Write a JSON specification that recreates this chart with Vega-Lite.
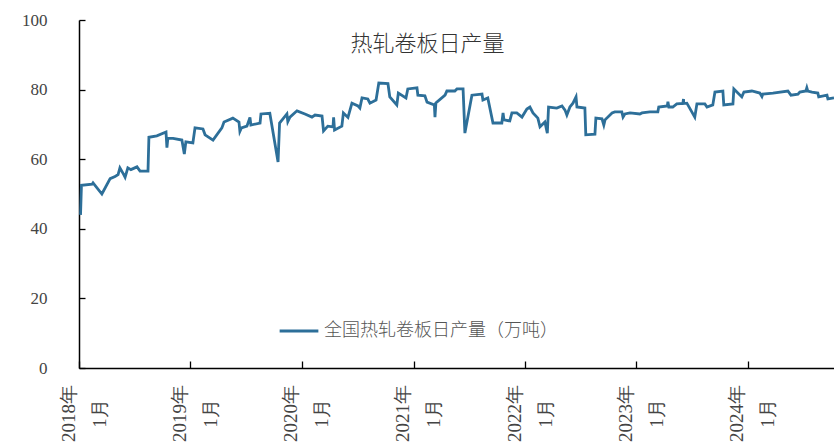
{
  "$schema": "https://vega.github.io/schema/vega-lite/v6.json",
  "width": 755,
  "height": 348,
  "autosize": "none",
  "padding": {"left": 79, "top": 20, "right": 0, "bottom": 77},
  "background": "white",
  "title": {
    "text": "热轧卷板日产量",
    "font": "Noto Sans CJK SC",
    "fontSize": 22,
    "fontWeight": 300,
    "color": "#333333",
    "anchor": "middle",
    "offset": -45,
    "dx": -29
  },
  "config": {
    "view": {"stroke": null},
    "axis": {"grid": false}
  },
  "data": {
    "values": [
      {"d": "2018-01-06", "v": 44.0},
      {"d": "2018-01-09", "v": 52.5},
      {"d": "2018-02-13", "v": 52.8},
      {"d": "2018-02-16", "v": 53.2},
      {"d": "2018-03-17", "v": 50.0},
      {"d": "2018-04-13", "v": 54.4},
      {"d": "2018-04-29", "v": 55.0},
      {"d": "2018-05-09", "v": 55.6},
      {"d": "2018-05-15", "v": 57.5},
      {"d": "2018-05-28", "v": 55.5},
      {"d": "2018-06-01", "v": 54.8},
      {"d": "2018-06-10", "v": 57.5},
      {"d": "2018-06-20", "v": 57.0},
      {"d": "2018-07-10", "v": 57.8},
      {"d": "2018-07-20", "v": 56.6},
      {"d": "2018-08-15", "v": 56.6},
      {"d": "2018-08-18", "v": 66.3},
      {"d": "2018-09-13", "v": 66.7},
      {"d": "2018-10-13", "v": 67.8},
      {"d": "2018-10-16", "v": 63.3},
      {"d": "2018-10-19", "v": 66.0},
      {"d": "2018-11-05", "v": 66.0},
      {"d": "2018-12-04", "v": 65.5},
      {"d": "2018-12-12", "v": 61.5},
      {"d": "2018-12-17", "v": 65.0},
      {"d": "2019-01-09", "v": 64.7},
      {"d": "2019-01-16", "v": 69.0},
      {"d": "2019-02-11", "v": 68.7},
      {"d": "2019-02-18", "v": 67.0},
      {"d": "2019-03-16", "v": 65.5},
      {"d": "2019-04-14", "v": 69.0},
      {"d": "2019-04-21", "v": 70.7},
      {"d": "2019-05-20", "v": 71.8},
      {"d": "2019-06-09", "v": 70.7},
      {"d": "2019-06-12", "v": 68.0},
      {"d": "2019-06-17", "v": 69.0},
      {"d": "2019-07-05", "v": 69.5},
      {"d": "2019-07-15", "v": 72.0},
      {"d": "2019-07-18", "v": 69.8},
      {"d": "2019-08-17", "v": 70.4},
      {"d": "2019-08-20", "v": 73.0},
      {"d": "2019-09-18", "v": 73.2},
      {"d": "2019-10-15", "v": 59.2},
      {"d": "2019-10-20", "v": 70.4},
      {"d": "2019-11-13", "v": 73.0},
      {"d": "2019-11-16", "v": 70.8},
      {"d": "2019-11-23", "v": 72.1},
      {"d": "2019-12-16", "v": 73.9},
      {"d": "2020-01-11", "v": 73.0},
      {"d": "2020-02-03", "v": 72.1},
      {"d": "2020-02-13", "v": 72.7},
      {"d": "2020-03-07", "v": 72.4},
      {"d": "2020-03-12", "v": 68.1},
      {"d": "2020-03-26", "v": 69.5},
      {"d": "2020-04-12", "v": 69.3},
      {"d": "2020-04-14", "v": 72.0},
      {"d": "2020-04-17", "v": 68.4},
      {"d": "2020-05-11", "v": 69.5},
      {"d": "2020-05-16", "v": 73.3},
      {"d": "2020-05-31", "v": 72.0},
      {"d": "2020-06-13", "v": 76.1},
      {"d": "2020-07-03", "v": 75.3},
      {"d": "2020-07-09", "v": 74.7},
      {"d": "2020-07-16", "v": 77.6},
      {"d": "2020-08-04", "v": 77.3},
      {"d": "2020-08-11", "v": 76.1},
      {"d": "2020-08-31", "v": 77.0},
      {"d": "2020-09-09", "v": 81.9},
      {"d": "2020-10-09", "v": 81.7},
      {"d": "2020-10-15", "v": 77.9},
      {"d": "2020-11-07", "v": 75.6},
      {"d": "2020-11-12", "v": 79.0},
      {"d": "2020-12-07", "v": 77.6},
      {"d": "2020-12-13", "v": 80.2},
      {"d": "2021-01-12", "v": 80.5},
      {"d": "2021-01-15", "v": 78.4},
      {"d": "2021-02-07", "v": 78.2},
      {"d": "2021-02-14", "v": 76.4},
      {"d": "2021-03-10", "v": 75.6},
      {"d": "2021-03-12", "v": 72.1},
      {"d": "2021-03-15", "v": 76.2},
      {"d": "2021-04-14", "v": 78.4},
      {"d": "2021-04-20", "v": 79.6},
      {"d": "2021-05-16", "v": 79.6},
      {"d": "2021-05-23", "v": 80.2},
      {"d": "2021-06-12", "v": 80.2},
      {"d": "2021-06-18", "v": 67.5},
      {"d": "2021-07-11", "v": 78.4},
      {"d": "2021-08-13", "v": 78.7},
      {"d": "2021-08-16", "v": 77.0},
      {"d": "2021-09-01", "v": 77.6},
      {"d": "2021-09-18", "v": 70.4},
      {"d": "2021-10-17", "v": 70.4},
      {"d": "2021-10-21", "v": 73.3},
      {"d": "2021-10-24", "v": 71.3},
      {"d": "2021-11-12", "v": 71.0},
      {"d": "2021-11-19", "v": 73.3},
      {"d": "2021-12-05", "v": 73.3},
      {"d": "2021-12-22", "v": 72.1},
      {"d": "2022-01-07", "v": 74.4},
      {"d": "2022-01-17", "v": 75.0},
      {"d": "2022-01-27", "v": 73.3},
      {"d": "2022-02-12", "v": 71.8},
      {"d": "2022-02-19", "v": 69.3},
      {"d": "2022-03-07", "v": 70.7},
      {"d": "2022-03-15", "v": 67.5},
      {"d": "2022-03-19", "v": 75.0},
      {"d": "2022-04-15", "v": 74.7},
      {"d": "2022-05-02", "v": 75.3},
      {"d": "2022-05-12", "v": 74.1},
      {"d": "2022-05-18", "v": 72.7},
      {"d": "2022-05-28", "v": 75.0},
      {"d": "2022-06-07", "v": 76.1},
      {"d": "2022-06-17", "v": 77.9},
      {"d": "2022-06-20", "v": 75.0},
      {"d": "2022-07-16", "v": 74.7},
      {"d": "2022-07-19", "v": 67.0},
      {"d": "2022-08-18", "v": 67.2},
      {"d": "2022-08-21", "v": 71.8},
      {"d": "2022-09-10", "v": 71.6},
      {"d": "2022-09-16", "v": 69.8},
      {"d": "2022-09-20", "v": 71.3},
      {"d": "2022-10-13", "v": 73.3},
      {"d": "2022-10-22", "v": 73.6},
      {"d": "2022-11-14", "v": 73.6},
      {"d": "2022-11-18", "v": 72.1},
      {"d": "2022-11-24", "v": 73.0},
      {"d": "2022-12-11", "v": 73.3},
      {"d": "2023-01-12", "v": 73.0},
      {"d": "2023-01-19", "v": 73.3},
      {"d": "2023-02-14", "v": 73.6},
      {"d": "2023-03-12", "v": 73.6},
      {"d": "2023-03-15", "v": 75.0},
      {"d": "2023-04-12", "v": 75.3},
      {"d": "2023-04-14", "v": 76.5},
      {"d": "2023-04-17", "v": 75.0},
      {"d": "2023-04-30", "v": 75.0},
      {"d": "2023-05-13", "v": 75.9},
      {"d": "2023-06-02", "v": 76.0},
      {"d": "2023-06-04", "v": 77.3},
      {"d": "2023-06-05", "v": 76.0},
      {"d": "2023-06-15", "v": 76.1},
      {"d": "2023-07-11", "v": 72.1},
      {"d": "2023-07-18", "v": 75.9},
      {"d": "2023-08-13", "v": 75.9},
      {"d": "2023-08-20", "v": 75.0},
      {"d": "2023-09-08", "v": 75.6},
      {"d": "2023-09-15", "v": 79.3},
      {"d": "2023-10-11", "v": 79.6},
      {"d": "2023-10-14", "v": 75.6},
      {"d": "2023-11-13", "v": 75.9},
      {"d": "2023-11-16", "v": 80.2},
      {"d": "2023-12-12", "v": 77.9},
      {"d": "2023-12-19", "v": 79.3},
      {"d": "2024-01-14", "v": 79.6},
      {"d": "2024-02-09", "v": 79.0},
      {"d": "2024-02-16", "v": 78.0},
      {"d": "2024-02-19", "v": 78.7},
      {"d": "2024-03-23", "v": 79.0},
      {"d": "2024-05-11", "v": 79.6},
      {"d": "2024-05-21", "v": 78.4},
      {"d": "2024-06-13", "v": 78.7},
      {"d": "2024-06-19", "v": 79.3},
      {"d": "2024-07-09", "v": 79.6},
      {"d": "2024-07-12", "v": 80.5},
      {"d": "2024-07-15", "v": 79.6},
      {"d": "2024-07-29", "v": 79.3},
      {"d": "2024-08-17", "v": 79.0},
      {"d": "2024-08-20", "v": 77.9},
      {"d": "2024-09-16", "v": 78.4},
      {"d": "2024-09-19", "v": 77.3},
      {"d": "2024-10-09", "v": 77.6}
    ]
  },
  "mark": {"type": "line", "strokeWidth": 2.8, "clip": true},
  "encoding": {
    "x": {
      "field": "d",
      "type": "temporal",
      "scale": {"type": "utc", "domain": ["2018-01-01", "2024-10-09"], "nice": false},
      "axis": {
        "title": null,
        "values": [
          {"year": 2018, "month": 1, "date": 1, "utc": true},
          {"year": 2019, "month": 1, "date": 1, "utc": true},
          {"year": 2020, "month": 1, "date": 1, "utc": true},
          {"year": 2021, "month": 1, "date": 1, "utc": true},
          {"year": 2022, "month": 1, "date": 1, "utc": true},
          {"year": 2023, "month": 1, "date": 1, "utc": true},
          {"year": 2024, "month": 1, "date": 1, "utc": true}
        ],
        "labelExpr": "[utcFormat(datum.value, '%Y年'), utcFormat(datum.value, '%-m月')]",
        "labelAngle": 270,
        "labelAlign": "center",
        "labelBaseline": "middle",
        "labelLineHeight": 31,
        "labelOffset": -11,
        "labelPadding": 52,
        "labelFont": "Liberation Serif",
        "labelFontSize": 19,
        "labelColor": "#444444",
        "labelOverlap": false,
        "domainColor": "#000000",
        "domainWidth": 1.5,
        "tickColor": "#000000",
        "tickWidth": 1.3,
        "tickSize": -7
      }
    },
    "y": {
      "field": "v",
      "type": "quantitative",
      "scale": {"domain": [0, 100], "nice": false},
      "axis": {
        "title": null,
        "values": [0, 20, 40, 60, 80, 100],
        "labelFont": "Liberation Serif",
        "labelFontSize": 17,
        "labelColor": "#444444",
        "labelPadding": 38,
        "domainColor": "#000000",
        "domainWidth": 1.5,
        "tickColor": "#000000",
        "tickWidth": 1.3,
        "tickSize": -6
      }
    },
    "color": {
      "datum": "全国热轧卷板日产量（万吨）",
      "scale": {"range": ["#2d6f99"]},
      "legend": {
        "title": null,
        "orient": "none",
        "legendX": 199,
        "legendY": 290,
        "symbolType": "stroke",
        "symbolSize": 1500,
        "symbolStrokeWidth": 2.8,
        "labelFont": "Noto Sans CJK SC",
        "labelFontSize": 18,
        "labelFontWeight": 300,
        "labelColor": "#555555",
        "labelLimit": 0,
        "labelOffset": 4
      }
    }
  }
}
